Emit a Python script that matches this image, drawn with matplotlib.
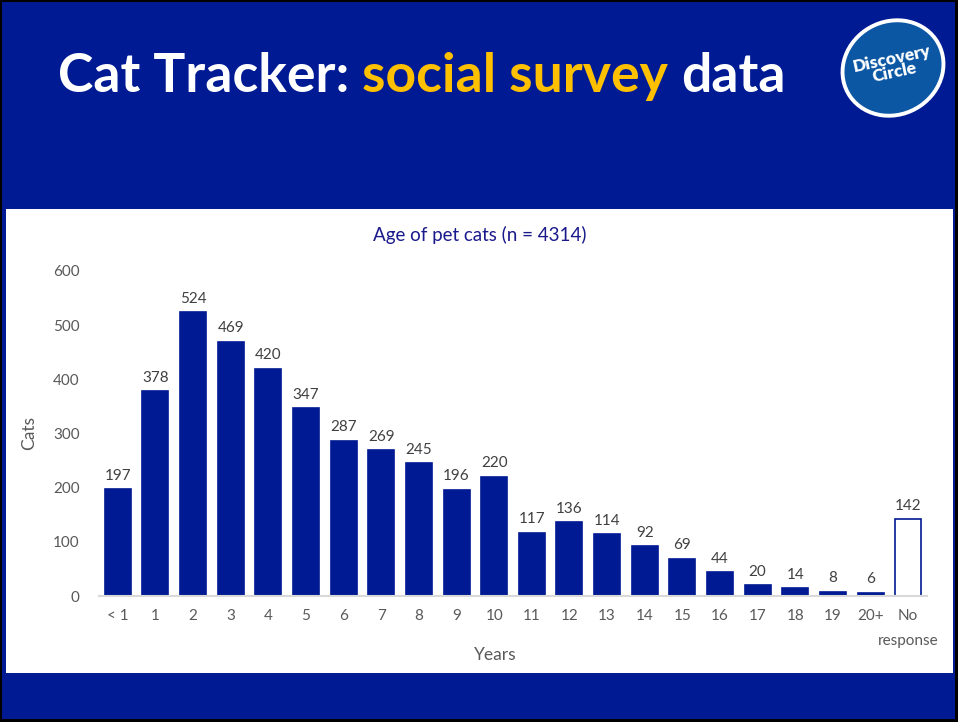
import matplotlib
matplotlib.use("Agg")
import matplotlib.pyplot as plt
from matplotlib.patches import Rectangle, Ellipse

categories = ["< 1", "1", "2", "3", "4", "5", "6", "7", "8", "9", "10", "11", "12",
              "13", "14", "15", "16", "17", "18", "19", "20+", "No"]
values = [197, 378, 524, 469, 420, 347, 287, 269, 245, 196, 220, 117, 136,
          114, 92, 69, 44, 20, 14, 8, 6, 142]
yticks = [0, 100, 200, 300, 400, 500, 600]

NAVY = "#001A94"
BAR = "#001A94"
FONT = ["Lato", "DejaVu Sans"]

fig = plt.figure(figsize=(9.58, 7.22), dpi=100)
fig.patch.set_facecolor("black")

W, H = 958, 722
def fx(x): return x / W
def fy(y): return 1 - y / H

# blue background inside black frame
fig.add_artist(Rectangle((fx(2), fy(719)), fx(953) - fx(0), (719 - 2) / H,
                         transform=fig.transFigure, facecolor=NAVY, edgecolor="none", zorder=0))
# white panel
fig.add_artist(Rectangle((fx(6), fy(673)), (953 - 6) / W, (673 - 209) / H,
                         transform=fig.transFigure, facecolor="white", edgecolor="none", zorder=1))

# main title
TS = 38.5
t1 = fig.text(fx(58), fy(92), "Cat Tracker: ", color="white", fontsize=TS, fontweight="bold",
              family=FONT, va="baseline", ha="left", zorder=3)
fig.canvas.draw()
r = fig.canvas.get_renderer()
bb = t1.get_window_extent(r)
t2 = fig.text(bb.x1 / W, fy(92), "social survey", color="#FFC000", fontsize=TS, fontweight="bold",
              family=FONT, va="baseline", ha="left", zorder=3)
bb2 = t2.get_window_extent(r)
fig.text(bb2.x1 / W + 13 / W, fy(92), "data", color="white", fontsize=TS, fontweight="bold",
         family=FONT, va="baseline", ha="left", zorder=3)

# logo
fig.add_artist(Ellipse((fx(893), fy(68)), 100 / W, 96 / H, angle=-10,
                       transform=fig.transFigure, facecolor="#0B57A4", edgecolor="white",
                       linewidth=2.8, zorder=2))
fig.text(fx(893), fy(66), "Discovery\nCircle", color="white", fontsize=12.5, fontweight="heavy",
         family=FONT, ha="center", va="center", rotation=12, linespacing=0.85, zorder=3)

# chart
ax = fig.add_axes([fx(99), fy(596), (927 - 99) / W, (596 - 271) / H])
ax.set_zorder(4)
ax.patch.set_alpha(0)
x = list(range(len(categories)))
colors = [BAR] * (len(values) - 1) + ["white"]
ax.bar(x, values, width=0.69, color=colors, edgecolor=BAR, linewidth=1.2)
for xi, v in zip(x, values):
    ax.text(xi, v + 12, str(v), ha="center", va="bottom", fontsize=11,
            color="#404040", family=FONT)

ax.set_xlim(-0.5, len(categories) - 0.5)
ax.set_ylim(0, 600)
ax.set_yticks(yticks)
ax.set_yticklabels([str(t) for t in yticks], family=FONT, fontsize=11, color="#595959")
ax.set_xticks(x)
ax.set_xticklabels(categories, family=FONT, fontsize=11, color="#595959")
ax.tick_params(axis="both", length=0)
ax.tick_params(axis="y", pad=14)
ax.tick_params(axis="x", pad=9)
for s in ["top", "right", "left"]:
    ax.spines[s].set_visible(False)
ax.spines["bottom"].set_color("#D9D9D9")
ax.spines["bottom"].set_linewidth(1.5)

# second line of the last category label
fig.text(fx(908), fy(641), "response", color="#595959", fontsize=11, family=FONT,
         ha="center", va="center", zorder=5)

fig.text(fx(480), fy(235), "Age of pet cats (n = 4314)", color="#1A1A8C", fontsize=13.5,
         family=FONT, ha="center", va="center", zorder=5)
fig.text(fx(29), fy(433), "Cats", color="#595959", fontsize=12.5, family=FONT,
         ha="center", va="center", rotation=90, zorder=5)
fig.text(fx(495), fy(655), "Years", color="#595959", fontsize=12.5, family=FONT,
         ha="center", va="center", zorder=5)

fig.savefig("out.png", dpi=100, facecolor=fig.get_facecolor())
